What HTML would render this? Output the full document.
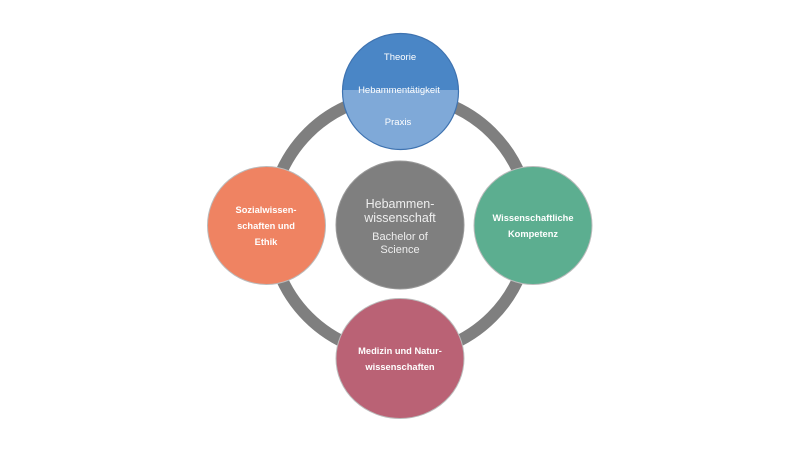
<!DOCTYPE html>
<html><head><meta charset="utf-8"><style>body{margin:0;background:#fff}</style></head><body>
<svg width="800" height="450" viewBox="0 0 800 450" xmlns="http://www.w3.org/2000/svg" font-family="Liberation Sans, sans-serif">
<circle cx="400" cy="225" r="130" fill="none" stroke="#7f7f7f" stroke-width="12"/>
<defs><clipPath id="c"><circle cx="400.5" cy="91.5" r="58"/></clipPath></defs>
<g clip-path="url(#c)">
<rect x="340" y="30" width="122" height="60" fill="#4a86c6"/>
<rect x="340" y="90" width="122" height="65" fill="#7fa9d8"/>
</g>
<circle cx="400.5" cy="91.5" r="58" fill="none" stroke="#3f73b0" stroke-width="1.2"/>
<text x="400" y="60" font-size="9.5" fill="#fff" text-anchor="middle">Theorie</text>
<text x="399" y="93" font-size="9.5" fill="#fff" text-anchor="middle">Hebammentätigkeit</text>
<text x="398" y="125" font-size="9.5" fill="#fff" text-anchor="middle">Praxis</text>
<circle cx="400" cy="225" r="64" fill="#7f7f7f" stroke="#999" stroke-width="1"/>
<text x="400" y="208" font-size="12.5" fill="#eee" text-anchor="middle">Hebammen-</text>
<text x="400" y="222" font-size="12.5" fill="#eee" text-anchor="middle">wissenschaft</text>
<text x="400" y="240" font-size="11" fill="#eee" text-anchor="middle">Bachelor of</text>
<text x="400" y="253" font-size="11" fill="#eee" text-anchor="middle">Science</text>
<circle cx="266.5" cy="225.5" r="59" fill="#ef8362" stroke="#bbb" stroke-width="1"/>
<g font-size="9.3" font-weight="bold" fill="#fff" text-anchor="middle">
<text x="266" y="213">Sozialwissen-</text>
<text x="266" y="229">schaften und</text>
<text x="266" y="245">Ethik</text>
</g>
<circle cx="533" cy="225.5" r="59" fill="#5cae90" stroke="#bbb" stroke-width="1"/>
<g font-size="9.3" font-weight="bold" fill="#fff" text-anchor="middle">
<text x="533" y="221">Wissenschaftliche</text>
<text x="533" y="237">Kompetenz</text>
</g>
<ellipse cx="400" cy="358.5" rx="64" ry="60" fill="#ba6275" stroke="#bbb" stroke-width="1"/>
<g font-size="9.3" font-weight="bold" fill="#fff" text-anchor="middle">
<text x="400" y="354">Medizin und Natur-</text>
<text x="400" y="370">wissenschaften</text>
</g>
</svg>
</body></html>
